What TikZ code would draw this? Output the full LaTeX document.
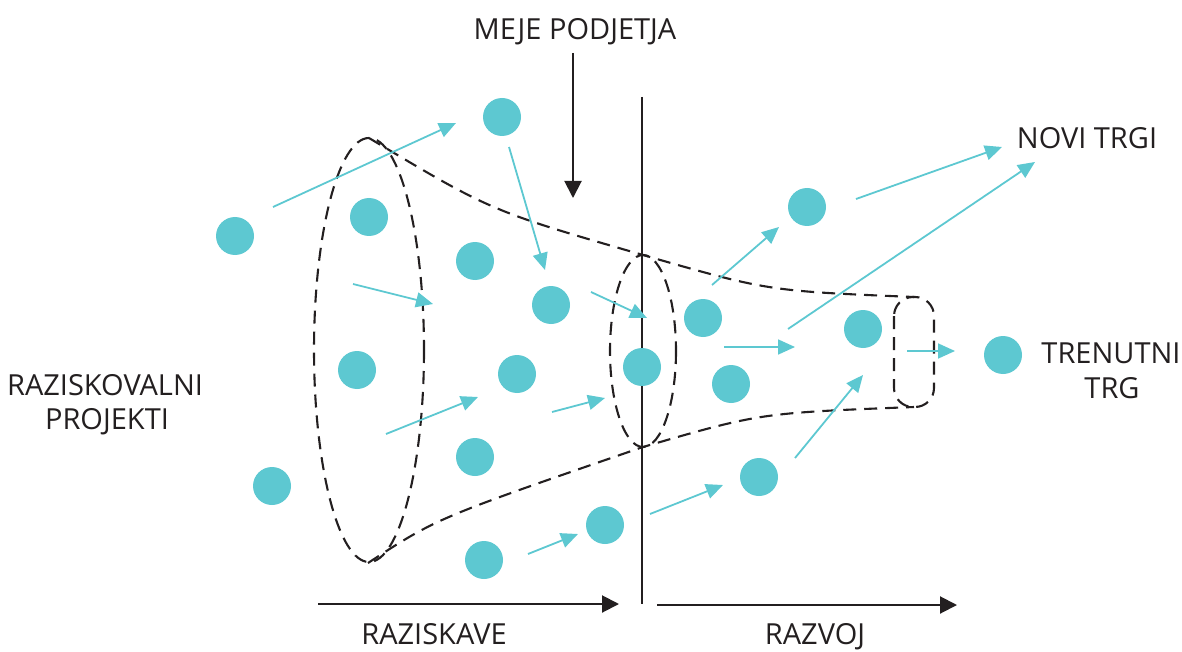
\documentclass[tikz,border=0pt]{standalone}
\usepackage{fontspec}
\setmainfont{Open Sans}
\usetikzlibrary{arrows.meta}
\definecolor{dotcol}{RGB}{93,200,209}
\definecolor{ink}{RGB}{35,31,32}
\begin{document}
\begin{tikzpicture}[x=1pt,y=-1pt,
  dot/.style={circle,fill=dotcol,minimum size=38pt,inner sep=0pt},
  flow/.style={draw=dotcol,line width=1.8pt,-{Triangle[length=17pt,width=15pt]}},
  edge/.style={draw=ink,line width=2.1pt,dash pattern=on 13pt off 8pt},
  divider/.style={draw=ink,line width=2pt},
  axis/.style={draw=ink,line width=2pt,-{Triangle[length=17pt,width=17pt]}},
  lbl/.style={text=ink,font=\fontsize{29}{34}\selectfont,inner sep=0pt,anchor=base}
]
\useasboundingbox (0,0) rectangle (1182,652);

% company boundary
\coordinate (bTop) at (642,97);
\coordinate (bBot) at (642,604);
\draw[divider] (bTop) -- (bBot);

% funnel outline
\draw[edge] (369,350) ellipse [x radius=55, y radius=212];
\draw[edge] (643,351) ellipse [x radius=33, y radius=96];
\draw[edge, rounded corners=19pt] (894,297) rectangle (934,407);
\draw[edge] (369,138) .. controls (491,211) .. (643,255)
            .. controls (768,291) .. (914,297);
\draw[edge] (368,563) .. controls (437,518) .. (643,447)
            .. controls (760,413) .. (914,407);

% projects
\node[dot] (d1)  at (235,236) {};
\node[dot] (d2)  at (502,117) {};
\node[dot] (d3)  at (369,217) {};
\node[dot] (d4)  at (475,261) {};
\node[dot] (d5)  at (551,305) {};
\node[dot] (d6)  at (357,370) {};
\node[dot] (d7)  at (517,374) {};
\node[dot] (d8)  at (642,367) {};
\node[dot] (d9)  at (475,457) {};
\node[dot] (d10) at (272,486) {};
\node[dot] (d11) at (484,560) {};
\node[dot] (d12) at (605,525) {};
\node[dot] (d13) at (703,318) {};
\node[dot] (d14) at (731,384) {};
\node[dot] (d15) at (807,207) {};
\node[dot] (d16) at (863,329) {};
\node[dot] (d17) at (759,477) {};
\node[dot] (d18) at (1003,355) {};

% project flows
\coordinate (f1s) at (273,207);  \coordinate (f1e) at (456,123);
\coordinate (f2s) at (509,147);  \coordinate (f2e) at (545,270);
\coordinate (f3s) at (353,284);  \coordinate (f3e) at (433,304);
\coordinate (f4s) at (591,292);  \coordinate (f4e) at (647,318);
\coordinate (f5s) at (386,434);  \coordinate (f5e) at (478,397);
\coordinate (f6s) at (552,412);  \coordinate (f6e) at (605,398);
\coordinate (f7s) at (528,554);  \coordinate (f7e) at (578,534);
\coordinate (f8s) at (650,514);  \coordinate (f8e) at (723,485);
\coordinate (f9s) at (795,458);  \coordinate (f9e) at (863,375);
\coordinate (f10s) at (724,347); \coordinate (f10e) at (795,347);
\coordinate (f11s) at (788,329); \coordinate (f11e) at (1035,162);
\coordinate (f12s) at (712,285); \coordinate (f12e) at (779,227);
\coordinate (f13s) at (856,199); \coordinate (f13e) at (1002,147);
\coordinate (f14s) at (907,351); \coordinate (f14e) at (955,351);
\foreach \i in {1,...,14} {\draw[flow] (f\i s) -- (f\i e);}

% boundary pointer and phase axes
\coordinate (mTop) at (573,53);  \coordinate (mTip) at (573,198);
\draw[axis] (mTop) -- (mTip);
\coordinate (rS) at (318,604);   \coordinate (rE) at (619,604);
\draw[axis] (rS) -- (rE);
\coordinate (vS) at (657,605);   \coordinate (vE) at (957,605);
\draw[axis] (vS) -- (vE);

% labels
\node[lbl] (tMeje)  at (575,40)  {MEJE PODJETJA};
\node[lbl] (tRaz1)  at (105,395) {RAZISKOVALNI};
\node[lbl] (tRaz2)  at (107,429) {PROJEKTI};
\node[lbl] (tNovi)  at (1087,149) {NOVI TRGI};
\node[lbl] (tTren1) at (1111,363) {TRENUTNI};
\node[lbl] (tTren2) at (1112,398) {TRG};
\node[lbl] (tRes)   at (434,644) {RAZISKAVE};
\node[lbl] (tDev)   at (815,644) {RAZVOJ};
\end{tikzpicture}
\end{document}
